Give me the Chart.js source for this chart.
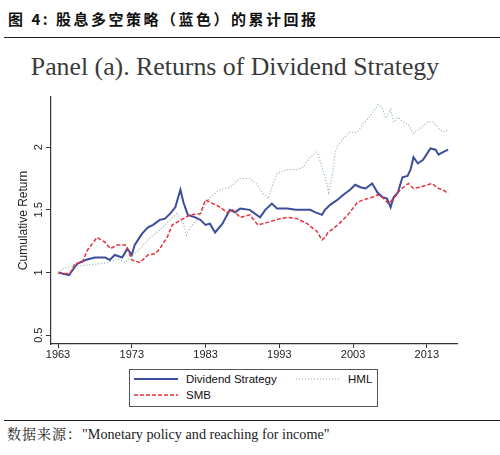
<!DOCTYPE html>
<html>
<head>
<meta charset="utf-8">
<script src="https://cdn.jsdelivr.net/npm/chart.js@4.4.1/dist/chart.umd.min.js"></script>
<style>
  html, body { margin: 0; padding: 0; background: #fff; }
  #page { position: relative; width: 500px; height: 455px; overflow: hidden; }
  .cap { position: absolute; left: 8px; top: 8px; font-family: "Noto Sans CJK SC"; font-weight: bold; font-size: 15px; letter-spacing: 2.5px; color: #111; white-space: nowrap; }
  .rule { position: absolute; left: 4px; right: 0; height: 1px; background: #222; }
  .panel { position: absolute; left: 0; width: 470px; top: 52px; text-align: center; font-family: "Liberation Serif"; font-size: 25.8px; color: #3a3a3a; white-space: nowrap; }
  #chartBox { position: absolute; left: 0; top: 90px; width: 500px; height: 275px; }
  .legend { position: absolute; left: 129px; top: 369px; width: 247px; height: 36px; border: 1px solid #555; font-family: "Liberation Sans"; font-size: 11.5px; color: #111; }
  .legend .item { position: absolute; display: flex; align-items: center; white-space: nowrap; }
  .legend svg { margin-right: 8px; }
  .source { position: absolute; left: 7px; top: 423px; font-size: 14px; color: #222; white-space: nowrap; }
  .source .zh { font-family: "Noto Serif CJK SC", "Noto Sans CJK SC"; font-size: 14px; letter-spacing: 1px; }
  .source .en { font-family: "Liberation Serif"; font-size: 14.2px; }
</style>
</head>
<body>
<div id="page">
  <div class="cap">图 4: 股息多空策略（蓝色）的累计回报</div>
  <div class="rule" style="top:37px"></div>
  <div class="panel">Panel (a). Returns of Dividend Strategy</div>
  <div id="chartBox"><canvas id="chart"></canvas></div>
  <div class="legend">
    <div class="item" style="left:4px;top:3px">
      <svg width="44" height="6"><line x1="0" y1="3" x2="44" y2="3" stroke="#3b4d9c" stroke-width="2"/></svg>Dividend Strategy
    </div>
    <div class="item" style="left:166px;top:3px">
      <svg width="44" height="6"><line x1="0" y1="3" x2="44" y2="3" stroke="#8fb39c" stroke-width="1.2" stroke-dasharray="1 2"/></svg>HML
    </div>
    <div class="item" style="left:4px;top:19px">
      <svg width="44" height="6"><line x1="0" y1="3" x2="44" y2="3" stroke="#e5323c" stroke-width="1.5" stroke-dasharray="4 2"/></svg>SMB
    </div>
  </div>
  <div class="rule" style="top:420px"></div>
  <div class="source"><span class="zh">数据来源：</span><span class="en">"Monetary policy and reaching for income"</span></div>
</div>
<script>
// Tick labels
const xTicks = [1963, 1973, 1983, 1993, 2003, 2013];
const yTicks = [0.5, 1, 1.5, 2];

// Dividend strategy (blue)
const divYears = [1963.0, 1963.7, 1964.5, 1965.0, 1965.6, 1966.7, 1968.0, 1969.4, 1970.0, 1970.7,
  1971.7, 1972.4, 1973.0, 1973.4, 1974.4, 1975.2, 1975.9, 1976.8, 1977.5, 1978.2,
  1978.9, 1979.6, 1980.0, 1980.6, 1981.6, 1982.3, 1983.0, 1983.6, 1984.3, 1985.3,
  1986.3, 1987.0, 1987.7, 1989.0, 1990.4, 1991.1, 1992.0, 1992.7, 1994.1, 1995.2,
  1996.2, 1997.2, 1997.9, 1998.8, 1999.2, 1999.9, 2000.9, 2001.7, 2002.6, 2003.3,
  2004.0, 2004.7, 2005.6, 2006.3, 2007.0, 2007.6, 2008.1, 2008.5, 2009.1, 2009.7,
  2010.4, 2010.8, 2011.2, 2011.8, 2012.5, 2013.5, 2014.2, 2014.6, 2015.2, 2015.9];
const divValues = [1.00, 0.99, 0.98, 1.02, 1.07, 1.10, 1.12, 1.12, 1.10, 1.14,
  1.12, 1.19, 1.14, 1.22, 1.31, 1.36, 1.38, 1.42, 1.43, 1.47,
  1.52, 1.66, 1.56, 1.46, 1.44, 1.42, 1.38, 1.39, 1.32, 1.39,
  1.50, 1.48, 1.51, 1.50, 1.44, 1.50, 1.55, 1.51, 1.51, 1.50,
  1.50, 1.50, 1.48, 1.46, 1.50, 1.54, 1.58, 1.62, 1.66, 1.70,
  1.68, 1.67, 1.71, 1.64, 1.60, 1.59, 1.52, 1.60, 1.64, 1.76,
  1.77, 1.82, 1.92, 1.87, 1.90, 1.99, 1.98, 1.94, 1.96, 1.98];

// SMB (red dashed)
const smbYears = [1963.0, 1964.0, 1964.7, 1965.3, 1966.3, 1967.0, 1968.3, 1969.4, 1970.1, 1971.0,
  1972.1, 1972.5, 1973.0, 1974.1, 1975.2, 1976.2, 1976.8, 1977.8, 1978.5, 1979.1,
  1980.0, 1980.9, 1982.3, 1983.0, 1984.0, 1985.0, 1985.9, 1986.7, 1987.7, 1989.0,
  1990.1, 1991.4, 1993.1, 1994.1, 1995.4, 1996.8, 1997.6, 1998.1, 1998.8, 1999.2,
  1999.6, 2000.3, 2001.3, 2002.3, 2003.6, 2004.4, 2005.6, 2006.3, 2007.0, 2007.8,
  2008.5, 2009.4, 2010.5, 2011.2, 2012.1, 2013.1, 2013.7, 2014.6, 2015.2, 2015.9];
const smbValues = [1.00, 0.99, 1.00, 1.07, 1.08, 1.18, 1.28, 1.24, 1.19, 1.22,
  1.22, 1.18, 1.10, 1.08, 1.14, 1.15, 1.19, 1.28, 1.38, 1.40,
  1.43, 1.46, 1.47, 1.58, 1.55, 1.52, 1.48, 1.50, 1.44, 1.46,
  1.38, 1.40, 1.43, 1.44, 1.43, 1.39, 1.35, 1.33, 1.26, 1.28,
  1.32, 1.35, 1.40, 1.46, 1.56, 1.58, 1.60, 1.62, 1.60, 1.55,
  1.59, 1.66, 1.71, 1.67, 1.68, 1.70, 1.71, 1.67, 1.66, 1.63];

// HML (green dotted)
const hmlYears = [1963.0, 1964.0, 1965.3, 1967.0, 1968.7, 1969.8, 1971.1, 1972.1, 1972.8, 1974.1,
  1975.5, 1976.8, 1978.2, 1979.1, 1980.0, 1980.4, 1980.9, 1982.0, 1982.7, 1983.6,
  1985.0, 1986.3, 1987.7, 1989.0, 1990.0, 1990.8, 1991.5, 1992.0, 1992.7, 1994.1,
  1995.4, 1996.2, 1996.9, 1997.6, 1998.1, 1998.5, 1999.0, 1999.5, 1999.7, 2000.2,
  2000.6, 2001.0, 2001.7, 2002.6, 2003.6, 2004.4, 2005.1, 2005.7, 2006.4, 2007.0,
  2007.4, 2008.1, 2008.5, 2009.1, 2009.8, 2010.5, 2011.2, 2012.1, 2013.1, 2013.9,
  2014.6, 2015.2, 2015.9];
const hmlValues = [1.00, 1.04, 1.05, 1.06, 1.07, 1.08, 1.11, 1.08, 1.12, 1.19,
  1.28, 1.34, 1.42, 1.47, 1.39, 1.30, 1.36, 1.43, 1.51, 1.60,
  1.66, 1.68, 1.75, 1.75, 1.70, 1.63, 1.59, 1.68, 1.79, 1.82,
  1.82, 1.84, 1.90, 1.94, 1.96, 1.90, 1.80, 1.70, 1.64, 1.78,
  1.96, 2.02, 2.07, 2.12, 2.12, 2.19, 2.23, 2.28, 2.34, 2.31,
  2.23, 2.30, 2.20, 2.24, 2.20, 2.18, 2.11, 2.15, 2.20, 2.20,
  2.15, 2.12, 2.14];

function toPoints(years, values) {
  return years.map((yr, i) => ({ x: yr, y: values[i] }));
}

const axisFont = { family: 'Liberation Sans', size: 11 };

// y labels in the reference are rotated; draw them ourselves from the scale
const rotatedYLabels = {
  id: 'rotatedYLabels',
  afterDraw(chart) {
    const { ctx, scales } = chart;
    const yScale = scales.y;
    ctx.save();
    ctx.fillStyle = '#222';
    ctx.font = '11px "Liberation Sans"';
    ctx.textAlign = 'center';
    ctx.textBaseline = 'middle';
    yTicks.forEach((v) => {
      const py = yScale.getPixelForValue(v);
      ctx.save();
      ctx.translate(39, py);
      ctx.rotate(-Math.PI / 2);
      ctx.fillText(String(v), 0, 0);
      ctx.restore();
    });
    // axis title
    ctx.font = '12px "Liberation Sans"';
    const mid = (chart.chartArea.top + chart.chartArea.bottom) / 2;
    ctx.translate(24, mid);
    ctx.rotate(-Math.PI / 2);
    ctx.fillText('Cumulative Return', 0, 0);
    ctx.restore();
  },
};

new Chart(document.getElementById('chart'), {
  type: 'line',
  data: {
    datasets: [
      {
        label: 'HML',
        data: toPoints(hmlYears, hmlValues),
        borderColor: '#8fb39c',
        borderWidth: 1.2,
        borderDash: [1, 2],
        pointRadius: 0,
        tension: 0,
      },
      {
        label: 'SMB',
        data: toPoints(smbYears, smbValues),
        borderColor: '#e5323c',
        borderWidth: 1.5,
        borderDash: [4, 2],
        pointRadius: 0,
        tension: 0,
      },
      {
        label: 'Dividend Strategy',
        data: toPoints(divYears, divValues),
        borderColor: '#3b4d9c',
        borderWidth: 2,
        pointRadius: 0,
        tension: 0,
      },
    ],
  },
  options: {
    responsive: true,
    maintainAspectRatio: false,
    animation: false,
    layout: { padding: { top: 7, right: 43, left: 0, bottom: 0 } },
    plugins: { legend: { display: false }, tooltip: { enabled: false } },
    scales: {
      x: {
        type: 'linear',
        min: 1962.05,
        max: 2017.1,
        afterBuildTicks: (scale) => {
          scale.ticks = xTicks.map((v) => ({ value: v }));
        },
        afterFit: (scale) => {
          scale.height = 21;
        },
        ticks: {
          color: '#222',
          font: axisFont,
          padding: 0,
          maxRotation: 0,
          autoSkip: false,
          callback: (v) => String(v),
        },
        grid: { drawOnChartArea: false, drawTicks: true, tickLength: 4, color: '#333' },
        border: { display: true, color: '#333', width: 1.2 },
      },
      y: {
        type: 'linear',
        min: 0.43,
        max: 2.4,
        afterBuildTicks: (scale) => {
          scale.ticks = yTicks.map((v) => ({ value: v }));
        },
        afterFit: (scale) => {
          scale.width = 51;
        },
        ticks: { color: 'rgba(0,0,0,0)', font: axisFont, padding: 0 },
        grid: { drawOnChartArea: false, drawTicks: true, tickLength: 5, color: '#333' },
        border: { display: true, color: '#333', width: 1.2 },
      },
    },
  },
  plugins: [rotatedYLabels],
});
</script>
</body>
</html>
